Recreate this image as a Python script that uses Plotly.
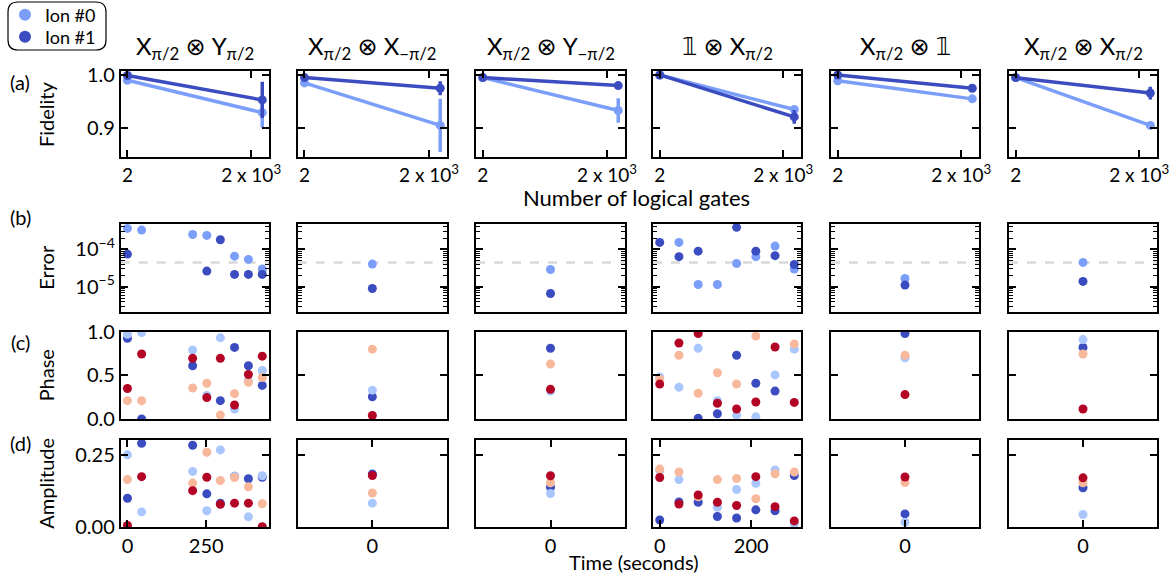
import math
import plotly.graph_objects as go

# ---------------- data ----------------
column_titles = [
    "X<sub>π/2</sub> ⊗ Y<sub>π/2</sub>",
    "X<sub>π/2</sub> ⊗ X<sub>−π/2</sub>",
    "X<sub>π/2</sub> ⊗ Y<sub>−π/2</sub>",
    "𝟙 ⊗ X<sub>π/2</sub>",
    "X<sub>π/2</sub> ⊗ 𝟙",
    "X<sub>π/2</sub> ⊗ X<sub>π/2</sub>",
]
ion_names = ["Ion #0", "Ion #1"]

# (a) fidelity vs number of logical gates
gate_counts = [2, 2180]
gate_tickvals = [2, 2000]
gate_ticktext = ["2", "2 x 10<sup>3</sup>"]
fid_ion0 = [[0.990, 0.929], [0.985, 0.905], [0.995, 0.933], [1.000, 0.935], [0.989, 0.955], [0.995, 0.905]]
fid_ion0_err = [[0.003, 0.028], [0.004, 0.050], [0.002, 0.023], [0.002, 0.004], [0.005, 0.003], [0.003, 0.002]]
fid_ion1 = [[0.999, 0.953], [0.995, 0.975], [0.995, 0.980], [1.000, 0.921], [1.000, 0.975], [0.995, 0.966]]
fid_ion1_err = [[0.002, 0.034], [0.003, 0.013], [0.002, 0.003], [0.002, 0.013], [0.002, 0.003], [0.002, 0.012]]

# time stamps (seconds) per column
times = [
    [0, 45, 207, 252, 295, 340, 384, 428],
    [0],
    [0],
    [0, 42, 84, 126, 168, 210, 252, 294],
    [0],
    [0],
]
time_tickvals = [[0, 250], [0], [0], [0, 200], [0], [0]]

# (b) error
err_ion0 = [
    [3.65e-4, 3.3e-4, 2.52e-4, 2.37e-4, None, 6.6e-5, 5.4e-5, 3.0e-5],
    [4.05e-5], [2.9e-5],
    [None, 1.54e-4, 1.15e-5, 1.15e-5, 4.2e-5, 6.4e-5, 1.23e-4, 3.0e-5],
    [1.67e-5], [4.5e-5],
]
err_ion1 = [
    [7.5e-5, None, None, 2.63e-5, 1.82e-4, 2.14e-5, 2.14e-5, 2.14e-5],
    [9.0e-6], [6.6e-6],
    [1.54e-4, 6.4e-5, 9.0e-5, None, 3.9e-4, 9.0e-5, 6.8e-5, 3.96e-5],
    [1.11e-5], [1.39e-5],
]
err_threshold = 4.5e-5

# (c) phase, four series (coolwarm colours)
phase_s0 = [[0.924, 0.0, 0.61, None, 0.21, 0.82, 0.61, 0.385], [0.255], [0.81],
            [None, None, 0.01, 0.06, 0.73, 0.41, 0.32, None], [0.98], [0.82]]
phase_s1 = [[0.97, 0.99, 0.79, 0.27, 0.93, 0.115, 0.44, 0.555], [0.33], [0.32],
            [0.48, 0.365, 0.81, 0.21, 0.045, 0.025, 0.505, 0.80], [0.70], [0.91]]
phase_s2 = [[0.21, 0.21, 0.355, 0.41, 0.045, 0.29, 0.42, 0.475], [0.80], [0.63],
            [0.455, 0.73, 0.295, 0.53, 0.40, 0.95, None, 0.86], [0.73], [0.745]]
phase_s3 = [[0.35, 0.745, 0.695, 0.245, 0.695, 0.16, 0.51, 0.72], [0.04], [0.34],
            [0.40, 0.87, 0.98, 0.18, 0.115, 0.195, 0.825, 0.19], [0.28], [0.115]]

# (d) amplitude, four series
amp_s0 = [[0.10, 0.289, 0.282, 0.115, 0.083, 0.175, 0.167, 0.172], [0.183], [0.138],
          [0.025, 0.087, 0.086, 0.037, 0.032, 0.06, 0.057, 0.178], [0.046], [0.136]]
amp_s1 = [[0.249, 0.053, 0.192, 0.057, 0.266, 0.175, 0.036, 0.177], [0.083], [0.116],
          [0.195, 0.164, None, 0.069, 0.13, 0.151, 0.197, 0.011], [0.017], [0.044]]
amp_s2 = [[0.164, None, 0.152, 0.258, 0.161, 0.171, 0.139, 0.081], [0.118], [0.153],
          [0.20, 0.19, 0.105, 0.164, 0.168, 0.098, 0.184, 0.19], [0.154], [0.153]]
amp_s3 = [[0.006, 0.174, 0.126, 0.172, 0.079, 0.083, 0.083, 0.002], [0.178], [0.177],
          [0.171, 0.08, 0.111, 0.086, 0.075, 0.174, 0.071, 0.022], [0.173], [0.17]]

row_labels = ["(a)", "(b)", "(c)", "(d)"]
row_titles = ["Fidelity", "Error", "Phase", "Amplitude"]

# ---------------- styling / layout ----------------
W, H = 1169, 573
C_ION = ["#7b9ff9", "#3b4cc0"]
CW = ["#3b4cc0", "#aac7fd", "#f7b89c", "#b40426"]
FONT = "Lato, 'Open Sans', 'DejaVu Sans', sans-serif"

col_px = [(120.7, 269), (297.7, 447), (476, 625), (653, 801), (831, 979), (1009, 1157)]
row_px = [(70.7, 157.3), (224, 311.7), (331.7, 419), (440, 527.3)]


def fx(px):
    return px / W


def fy(py):
    return 1 - py / H


def suffix(k):
    return "" if k == 1 else str(k)


def pad_range(vals, frac=0.05, single=0.055):
    lo, hi = min(vals), max(vals)
    if hi == lo:
        return [lo - single, hi + single]
    d = (hi - lo) * frac
    return [lo - d, hi + d]


base_axis = dict(
    showline=True, linecolor="black", linewidth=1.8, mirror="allticks",
    ticks="inside", ticklen=7, tickwidth=1.8, tickcolor="black",
    showgrid=False, zeroline=False,
    tickfont=dict(size=20, color="black", family=FONT),
    ticklabeloverflow="allow",
)

fig = go.Figure()
layout = dict(
    width=W, height=H,
    margin=dict(l=0, r=0, t=0, b=0, autoexpand=False),
    paper_bgcolor="white", plot_bgcolor="white",
    font=dict(family=FONT, size=20, color="black"),
    showlegend=True,
)
shapes = []
annotations = []

minor_log = [m * 10 ** e for e in range(-7, -2) for m in range(2, 10)]

for r in range(4):
    y0, y1 = row_px[r]
    for c in range(6):
        k = r * 6 + c + 1
        x0, x1 = col_px[c]
        xa = dict(base_axis, domain=[fx(x0), fx(x1)], anchor="y" + suffix(k))
        ya = dict(base_axis, domain=[fy(y1), fy(y0)], anchor="x" + suffix(k))
        ya["showticklabels"] = (c == 0)
        xr = "x" + suffix(k)
        yr = "y" + suffix(k)

        if r == 0:
            xa.update(range=pad_range(gate_counts), tickmode="array",
                      tickvals=gate_tickvals, ticktext=gate_ticktext,
                      tickfont=dict(size=19, color="black", family=FONT))
            ya.update(range=[0.845, 1.008], tickmode="array",
                      tickvals=[0.9, 1.0], ticktext=["0.9", "1.0"])
            for ion, (vals, errs) in enumerate([(fid_ion0, fid_ion0_err), (fid_ion1, fid_ion1_err)]):
                fig.add_trace(go.Scatter(
                    x=gate_counts, y=vals[c], mode="lines+markers",
                    line=dict(color=C_ION[ion], width=3.5),
                    marker=dict(color=C_ION[ion], size=9),
                    error_y=dict(type="data", array=errs[c], color=C_ION[ion], thickness=3.5, width=0),
                    xaxis=xr, yaxis=yr, showlegend=False, cliponaxis=False,
                ))
        else:
            xa.update(range=pad_range(times[c]), tickmode="array",
                      tickvals=time_tickvals[c], ticktext=[str(v) for v in time_tickvals[c]])
            if r < 3:
                xa.update(ticks="", showticklabels=False)
            if r == 1:
                ya.update(type="log", range=[math.log10(2.15e-6), math.log10(4.8e-4)],
                          tickmode="array", tickvals=[1e-5, 1e-4],
                          ticktext=["10<sup>−5</sup>", "10<sup>−4</sup>"],
                          minor=dict(ticks="inside", ticklen=4, tickwidth=1.2, tickcolor="black",
                                     tickmode="array", tickvals=minor_log, showgrid=False))
                shapes.append(dict(type="line", xref=xr + " domain", yref=yr,
                                   x0=0, x1=1, y0=err_threshold, y1=err_threshold,
                                   line=dict(color="#d9d9d9", width=2.5, dash="dash"), layer="below"))
                for ion, vals in enumerate([err_ion0, err_ion1]):
                    fig.add_trace(go.Scatter(
                        x=times[c], y=vals[c], mode="markers",
                        marker=dict(color=C_ION[ion], size=9),
                        xaxis=xr, yaxis=yr, showlegend=False,
                    ))
            else:
                if r == 2:
                    ya.update(range=[0, 1.0], tickmode="array", tickvals=[0, 0.5, 1.0],
                              ticktext=["0.0", "0.5", "1.0"])
                    series = [phase_s0, phase_s1, phase_s2, phase_s3]
                else:
                    ya.update(range=[0, 0.30], tickmode="array", tickvals=[0, 0.25],
                              ticktext=["0.00", "0.25"])
                    series = [amp_s0, amp_s1, amp_s2, amp_s3]
                for s, vals in enumerate(series):
                    fig.add_trace(go.Scatter(
                        x=times[c], y=vals[c], mode="markers",
                        marker=dict(color=CW[s], size=9),
                        xaxis=xr, yaxis=yr, showlegend=False,
                    ))
        layout["xaxis" + suffix(k)] = xa
        layout["yaxis" + suffix(k)] = ya

# legend entries: one legend per ion so the two rows can sit close together
legend_ids = ["legend", "legend2"]
legend_y = [15, 37]
for ion in range(2):
    fig.add_trace(go.Scatter(x=[None], y=[None], mode="markers", name=ion_names[ion],
                             marker=dict(color=C_ION[ion], size=8), showlegend=True,
                             legend=legend_ids[ion]))
    layout[legend_ids[ion]] = dict(x=fx(5), y=fy(legend_y[ion]), xanchor="left", yanchor="middle",
                                   bgcolor="rgba(0,0,0,0)", borderwidth=0,
                                   font=dict(size=18, family=FONT), itemwidth=30,
                                   itemsizing="constant")
# rounded legend frame
lx0, ly0, lx1, ly1, rad = 8, 2, 106, 50, 10
path = (f"M {fx(lx0 + rad)} {fy(ly0)} L {fx(lx1 - rad)} {fy(ly0)} "
        f"Q {fx(lx1)} {fy(ly0)} {fx(lx1)} {fy(ly0 + rad)} L {fx(lx1)} {fy(ly1 - rad)} "
        f"Q {fx(lx1)} {fy(ly1)} {fx(lx1 - rad)} {fy(ly1)} L {fx(lx0 + rad)} {fy(ly1)} "
        f"Q {fx(lx0)} {fy(ly1)} {fx(lx0)} {fy(ly1 - rad)} L {fx(lx0)} {fy(ly0 + rad)} "
        f"Q {fx(lx0)} {fy(ly0)} {fx(lx0 + rad)} {fy(ly0)} Z")
shapes.append(dict(type="path", xref="paper", yref="paper", path=path,
                   line=dict(color="black", width=1.2)))

# column titles
for c in range(6):
    annotations.append(dict(text=column_titles[c], x=fx((col_px[c][0] + col_px[c][1]) / 2), y=fy(48),
                            xref="paper", yref="paper", showarrow=False,
                            xanchor="center", yanchor="middle", font=dict(size=24)))
# row labels and axis titles
row_label_y = [82, 217, 342, 443]
for r in range(4):
    annotations.append(dict(text=row_labels[r], x=fx(20), y=fy(row_label_y[r]), xref="paper", yref="paper",
                            showarrow=False, xanchor="center", yanchor="middle", font=dict(size=20)))
    annotations.append(dict(text=row_titles[r], x=fx(46), y=fy((row_px[r][0] + row_px[r][1]) / 2),
                            xref="paper", yref="paper", showarrow=False, textangle=-90,
                            xanchor="center", yanchor="middle", font=dict(size=20)))
annotations.append(dict(text="Number of logical gates", x=fx(636), y=fy(197), xref="paper", yref="paper",
                        showarrow=False, xanchor="center", yanchor="middle", font=dict(size=22)))
annotations.append(dict(text="Time (seconds)", x=fx(634), y=fy(562), xref="paper", yref="paper",
                        showarrow=False, xanchor="center", yanchor="middle", font=dict(size=20)))

layout["shapes"] = shapes
layout["annotations"] = annotations
fig.update_layout(**layout)
fig.write_html("out.html", config={"displayModeBar": False},
               post_script="document.body.style.margin='0px';document.body.style.overflow='hidden';")
